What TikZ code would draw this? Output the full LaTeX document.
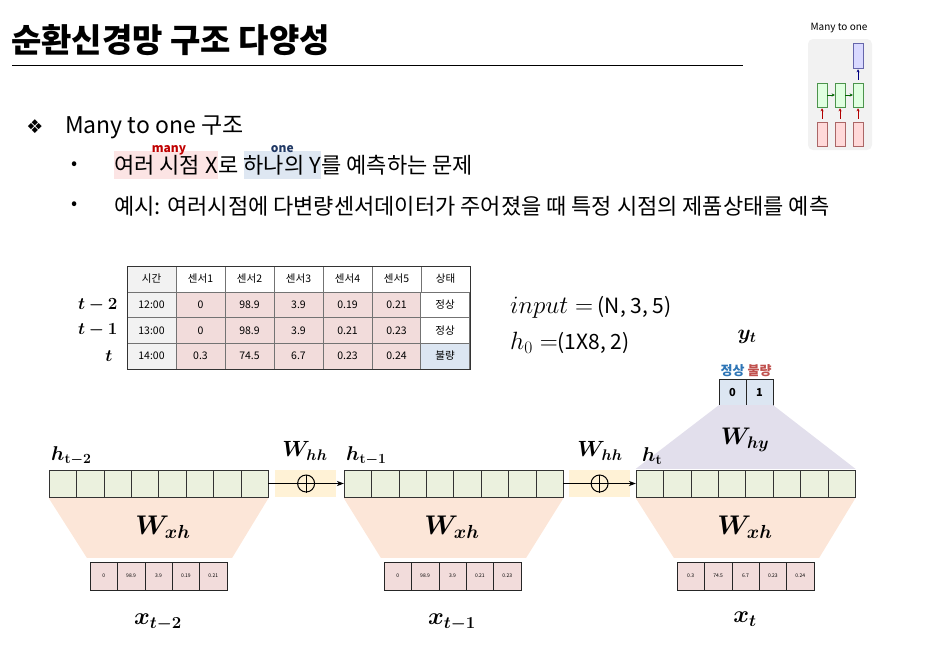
\RequirePackage{fix-cm}
\documentclass[tikz,border=0pt]{standalone}
\usepackage[no-math]{fontspec}
\setmainfont{Noto Sans CJK KR}
\newfontfamily\symfont{DejaVu Sans}
\usepackage{bm}
\usepackage{tikz}
\usetikzlibrary{arrows.meta,positioning,calc}
\tikzset{>=Stealth}
\newcommand*{\fsz}[1]{\fontsize{#1}{#1}\selectfont}
\definecolor{cellpink}{HTML}{F2DCDB}
\definecolor{tgray}{HTML}{F2F2F2}
\definecolor{stblue}{HTML}{DCE6F2}
\definecolor{hgreen}{HTML}{EBF1DE}
\definecolor{hhyellow}{HTML}{FFF2D6}
\definecolor{xhorange}{HTML}{FCE6D8}
\definecolor{hypurple}{HTML}{E2DFEC}
\definecolor{hlpink}{HTML}{FCE4E4}
\definecolor{hlblue}{HTML}{DEE7F2}
\definecolor{manyred}{HTML}{C00000}
\definecolor{onenavy}{HTML}{203864}
\definecolor{okblue}{HTML}{2E75B6}
\definecolor{badred}{HTML}{C0504D}

\begin{document}
\begin{tikzpicture}[x=1pt,y=-1pt,
  cell/.style={draw=black!55, minimum width=49pt, minimum height=25.7pt, inner sep=0pt, font=\fsz{10.5}},
  hcell/.style={draw=black!80, fill=hgreen, minimum width=27.4pt, minimum height=27pt, inner sep=0pt},
  xcell/.style={draw=black!85, fill=cellpink, minimum width=27.4pt, minimum height=28pt, inner sep=0pt, font=\fsz{5}},
  ycell/.style={draw=black!85, fill=stblue, minimum width=27pt, minimum height=26pt, inner sep=0pt, font=\fsz{11}\bfseries},
  wlab/.style={font=\fsz{22}},
  thumb/.style={minimum width=10pt, inner sep=0pt, line width=0.5pt}]
\useasboundingbox (0,0) rectangle (933,653);

\node[anchor=west, inner sep=0pt, font=\fsz{33}\bfseries] (title) at (11,40) {순환신경망 구조 다양성};
\draw[line width=0.8pt] (12,65) -- (743,65);

\node[font=\fsz{10}] (mto) at (839,28) {Many to one};
\fill[tgray, rounded corners=5pt] (808,39) rectangle (872,150);
\node[thumb, draw=blue!45!black!60, fill=blue!15, minimum height=25pt] (tb) at (858,55.5) {};
\node[thumb, draw=green!40!black!70, fill=green!12, minimum height=24pt] (tg1) at (822,95) {};
\node[thumb, draw=green!40!black!70, fill=green!12, minimum height=24pt] (tg2) at (840,95) {};
\node[thumb, draw=green!40!black!70, fill=green!12, minimum height=24pt] (tg3) at (858,95) {};
\node[thumb, draw=red!45!black!60, fill=red!15, minimum height=24pt] (tr1) at (822,134) {};
\node[thumb, draw=red!45!black!60, fill=red!15, minimum height=24pt] (tr2) at (840,134) {};
\node[thumb, draw=red!45!black!60, fill=red!15, minimum height=24pt] (tr3) at (858,134) {};
\draw[-{Stealth[length=3pt,width=3pt]}, red!70!black, line width=0.5pt, shorten <=3pt, shorten >=1pt] (tr1) -- (tg1);
\draw[-{Stealth[length=3pt,width=3pt]}, red!70!black, line width=0.5pt, shorten <=3pt, shorten >=1pt] (tr2) -- (tg2);
\draw[-{Stealth[length=3pt,width=3pt]}, red!70!black, line width=0.5pt, shorten <=3pt, shorten >=1pt] (tr3) -- (tg3);
\draw[-{Stealth[length=3pt,width=3pt]}, green!40!black, line width=0.5pt] (tg1) -- (tg2);
\draw[-{Stealth[length=3pt,width=3pt]}, green!40!black, line width=0.5pt] (tg2) -- (tg3);
\draw[-{Stealth[length=3pt,width=3pt]}, blue!50!black, line width=0.5pt, shorten <=3pt, shorten >=1pt] (tg3) -- (tb);

\node[font=\symfont\fsz{19}] (dia) at (35,127) {❖};
\node[anchor=west, inner sep=0pt, font=\fsz{23}] (sub) at (65,127) {Many to one 구조};
\node[font=\fsz{18}] (bul1) at (75,166) {•};
\node[font=\fsz{18}] (bul2) at (75,206) {•};
\node[anchor=base west, inner xsep=0pt, inner ysep=4pt, fill=hlpink, font=\fsz{22}] (many) at (114,173) {여러 시점 X};
\node[anchor=base west, inner xsep=0pt, font=\fsz{22}] (ro) at (many.base east) {로};
\node[anchor=base west, inner xsep=0pt, inner ysep=4pt, fill=hlblue, font=\fsz{22}] (one) at ([xshift=5pt]ro.base east) {하나의 Y};
\node[anchor=base west, inner xsep=0pt, font=\fsz{22}] (rest) at (one.base east) {를 예측하는 문제};
\node[anchor=base, font=\fsz{12}\bfseries, text=manyred, inner sep=0pt] (manylab) at ([xshift=3pt,yshift=-2pt]many.north) {many};
\node[anchor=base, font=\fsz{12}\bfseries, text=onenavy, inner sep=0pt] (onelab) at ([yshift=-2pt]one.north) {one};
\node[anchor=west, inner xsep=0pt, font=\fsz{22}] (ex) at (114,206) {예시: 여러시점에 다변량센서데이터가 주어졌을 때 특정 시점의 제품상태를 예측};

\node[cell, fill=tgray] (hd1) at (151.5,279) {시간};
\foreach \t [count=\i from 2] in {센서1,센서2,센서3,센서4,센서5,상태}
  \node[cell] (hd\i) at (102.5+49*\i,279) {\t};
\foreach \r/\y/\tm/\a/\b/\c/\d/\e/\st/\sf in {1/305/12:00/0/98.9/3.9/0.19/0.21/정상/white,
    2/330.5/13:00/0/98.9/3.9/0.21/0.23/정상/white, 3/356/14:00/0.3/74.5/6.7/0.23/0.24/불량/stblue} {
  \node[cell, fill=tgray] (r\r-1) at (151.5,\y) {\tm};
  \foreach \v [count=\i from 2] in {\a,\b,\c,\d,\e}
    \node[cell, fill=cellpink] (r\r-\i) at (102.5+49*\i,\y) {\v};
  \node[cell, fill=\sf] (r\r-7) at (445,\y) {\st};
}
\draw[black!80] (hd1.north west) rectangle (r3-7.south east);
\node[anchor=east, font=\fsz{17}] (tl1) at (121,305) {$\bm{t-2}$};
\node[anchor=east, font=\fsz{17}] (tl2) at (121,330.5) {$\bm{t-1}$};
\node[anchor=east, font=\fsz{17}] (tl3) at (116,356) {$\bm{t}$};

\node[anchor=west, inner sep=0pt, font=\fsz{21}] (inp) at (510,307) {{\fsz{25}$input =$} (N, 3, 5)};
\node[anchor=west, inner sep=0pt, font=\fsz{21}] (hz) at (510,343) {{\fsz{25}$h_0 =$}(1X8, 2)};

\node[ycell] (yc1) at (732.5,392) {0};
\node[ycell] (yc2) at (759.5,392) {1};
\node[above=1pt of yc1, font=\fsz{13}\bfseries, text=okblue, inner sep=1pt] (ok) {정상};
\node[above=1pt of yc2, font=\fsz{13}\bfseries, text=badred, inner sep=1pt] (bad) {불량};
\node[font=\fsz{21}] (ylab) at (747,337) {$\bm{y_t}$};

\fill[hhyellow] (275,470) rectangle (336,497);
\fill[hhyellow] (569,470) rectangle (630,497);
\foreach \r/\x in {1/49,2/344,3/636}
  \foreach \i in {1,...,8}
    \node[hcell] (hc\r\i) at (\x+27.4*\i-13.7,483.5) {};
\foreach \r/\x/\a/\b/\c/\d/\e in {1/90/0/98.9/3.9/0.19/0.21, 2/384/0/98.9/3.9/0.21/0.23, 3/677/0.3/74.5/6.7/0.23/0.24} {
  \foreach \v [count=\i] in {\a,\b,\c,\d,\e}
    \node[xcell] (xc\r\i) at (\x+27.4*\i-13.7,576) {\v};
  \fill[xhorange] ([yshift=-1pt]hc\r1.south west) -- ([yshift=-1pt]hc\r8.south east)
    -- ([xshift=5pt,yshift=4pt]xc\r5.north east) -- ([xshift=-3pt,yshift=4pt]xc\r1.north west) -- cycle;
}
\fill[hypurple] (yc1.south west) -- (yc2.south east) -- ([yshift=1pt]hc38.north east) -- ([yshift=1pt]hc31.north west) -- cycle;

\node[wlab, font=\fsz{27}] (wxh1) at (163,527) {$\bm{W_{xh}}$};
\node[wlab, font=\fsz{27}] (wxh2) at (452,527) {$\bm{W_{xh}}$};
\node[wlab, font=\fsz{27}] (wxh3) at (745,527) {$\bm{W_{xh}}$};
\node[wlab, font=\fsz{24}] (why) at (745,440) {$\bm{W_{hy}}$};
\node[wlab] (whh1) at (305,451) {$\bm{W_{hh}}$};
\node[wlab] (whh2) at (600,451) {$\bm{W_{hh}}$};
\node[wlab, font=\fsz{24}] (xl1) at (158,622) {$\bm{x_{t-2}}$};
\node[wlab, font=\fsz{24}] (xl2) at (452,622) {$\bm{x_{t-1}}$};
\node[wlab, font=\fsz{24}] (xl3) at (745,619) {$\bm{x_t}$};
\node[anchor=west, font=\fsz{20}, inner sep=0pt] (hl1) at (51,456) {$\bm{h_{\mathrm{t-2}}}$};
\node[anchor=west, font=\fsz{20}, inner sep=0pt] (hl2) at (346,456) {$\bm{h_{\mathrm{t-1}}}$};
\node[anchor=west, font=\fsz{20}, inner sep=0pt] (hl3) at (642,456) {$\bm{h_{\mathrm{t}}}$};

\draw[->, line width=0.9pt] (hc18.east) -- (hc21.west);
\draw[->, line width=0.9pt] (hc28.east) -- (hc31.west);
\node[circle, draw, line width=1pt, minimum size=17pt, inner sep=0pt] (op1) at ($(hc18.east)!0.5!(hc21.west)$) {};
\node[circle, draw, line width=1pt, minimum size=17pt, inner sep=0pt] (op2) at ($(hc28.east)!0.5!(hc31.west)$) {};
\draw[line width=1pt] (op1.north) -- (op1.south);
\draw[line width=1pt] (op2.north) -- (op2.south);
\end{tikzpicture}
\end{document}
